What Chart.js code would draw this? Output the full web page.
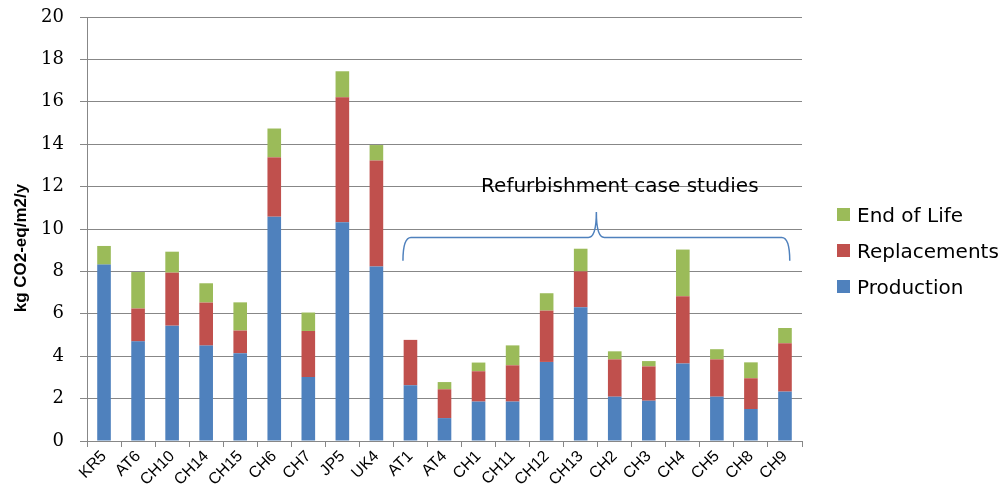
<!DOCTYPE html>
<html>
<head>
<meta charset="utf-8">
<script src="https://cdn.jsdelivr.net/npm/chart.js@4/dist/chart.umd.min.js"></script>
<style>
  html, body { margin: 0; padding: 0; background: #fff; }
  #wrap { position: relative; width: 1006px; height: 490px; }
  #legend { position: absolute; left: 837px; top: 202px; font-family: "DejaVu Sans", sans-serif; font-size: 20px; color: #000; }
  #legend div { height: 36px; line-height: 26px; white-space: nowrap; }
  #legend span { display: inline-block; width: 13px; height: 13px; margin-right: 7px; vertical-align: 1px; }
</style>
</head>
<body>
<div id="wrap">
  <canvas id="chart" width="1006" height="490"></canvas>
  <div id="legend"></div>
</div>
<script>
// ===== DATA =====
const buildings = ["KR5", "AT6", "CH10", "CH14", "CH15", "CH6", "CH7", "JP5", "UK4",
  "AT1", "AT4", "CH1", "CH11", "CH12", "CH13", "CH2", "CH3", "CH4", "CH5", "CH8", "CH9"];

const production   = [8.32, 4.70, 5.44, 4.50, 4.14, 10.58, 3.02, 10.32, 8.23,
  2.63, 1.08, 1.86, 1.86, 3.73, 6.31, 2.09, 1.90, 3.66, 2.09, 1.51, 2.33];
const replacements = [0, 1.55, 2.50, 2.03, 1.07, 2.80, 2.17, 5.89, 5.00,
  2.14, 1.36, 1.43, 1.71, 2.42, 1.69, 1.76, 1.62, 3.17, 1.76, 1.45, 2.28];
const endOfLife    = [0.88, 1.72, 0.99, 0.91, 1.33, 1.36, 0.87, 1.23, 0.73,
  0, 0.34, 0.41, 0.94, 0.82, 1.07, 0.38, 0.25, 2.20, 0.48, 0.75, 0.72];

const yTicks = [0, 2, 4, 6, 8, 10, 12, 14, 16, 18, 20];

const yTitle = "kg CO2-eq/m2/y";
const noteText = "Refurbishment case studies";

// ===== COLOURS =====
const blue = "#4F81BD";
const red = "#C0504D";
const green = "#9BBB59";
const gridColor = "#878787";

// ===== LEGEND (HTML) =====
const legendItems = [
  { label: "End of Life", color: green },
  { label: "Replacements", color: red },
  { label: "Production", color: blue }
];
document.getElementById("legend").innerHTML = legendItems
  .map(l => `<div><span style="background:${l.color}"></span>${l.label}</div>`)
  .join("");

// ===== BRACE, NOTE, AXIS TITLE =====
const bracePlugin = {
  id: "brace",
  afterDatasetsDraw(chart) {
    const x = chart.scales.x;
    const y = chart.scales.y;
    const ctx = chart.ctx;
    const xl = x.getPixelForValue(8.78);
    const xr = x.getPixelForValue(20.14);
    const xm = x.getPixelForValue(14.46);
    const yb = y.getPixelForValue(8.5);
    const yl = y.getPixelForValue(9.6);
    const yt = y.getPixelForValue(10.8);
    const r = 8;

    ctx.save();
    ctx.strokeStyle = blue;
    ctx.lineWidth = 1.5;
    ctx.beginPath();
    ctx.moveTo(xl, yb);
    ctx.quadraticCurveTo(xl, yl, xl + r, yl);
    ctx.lineTo(xm - r, yl);
    ctx.quadraticCurveTo(xm, yl, xm, yt);
    ctx.quadraticCurveTo(xm, yl, xm + r, yl);
    ctx.lineTo(xr - r, yl);
    ctx.quadraticCurveTo(xr, yl, xr, yb);
    ctx.stroke();

    ctx.fillStyle = "#000";
    ctx.font = '20px "DejaVu Sans", sans-serif';
    ctx.textAlign = "center";
    ctx.textBaseline = "middle";
    ctx.fillText(noteText, x.getPixelForValue(15.15), y.getPixelForValue(12.0));

    // y axis title, sits a bit below the middle like the original
    ctx.translate(21, y.getPixelForValue(9.1));
    ctx.rotate(-Math.PI / 2);
    ctx.font = 'bold 17px "Liberation Sans", Arial, sans-serif';
    ctx.fillText(yTitle, 0, 0);
    ctx.restore();
  }
};

// ===== CHART =====
const barOpts = { barPercentage: 0.4, categoryPercentage: 1.0, borderWidth: 0 };

new Chart(document.getElementById("chart").getContext("2d"), {
  type: "bar",
  data: {
    labels: buildings,
    datasets: [
      { label: "Production", data: production, backgroundColor: blue, ...barOpts },
      { label: "Replacements", data: replacements, backgroundColor: red, ...barOpts },
      { label: "End of Life", data: endOfLife, backgroundColor: green, ...barOpts }
    ]
  },
  options: {
    responsive: false,
    animation: false,
    layout: { padding: { top: 17, right: 204, bottom: 0, left: 0 } },
    plugins: {
      legend: { display: false },
      tooltip: { enabled: false }
    },
    scales: {
      x: {
        stacked: true,
        grid: { drawOnChartArea: false, drawTicks: true, tickLength: 6, color: gridColor, offset: true },
        border: { color: gridColor, width: 1 },
        ticks: {
          color: "#000",
          font: { family: "Liberation Sans", size: 16 },
          minRotation: 45,
          maxRotation: 45,
          autoSkip: false,
          padding: 0
        },
        afterFit(scale) {
          scale.height = 49;
          scale.paddingLeft = 0;
        }
      },
      y: {
        stacked: true,
        min: 0,
        max: 20,
        afterBuildTicks(scale) { scale.ticks = yTicks.map(v => ({ value: v })); },
        grid: { color: gridColor, lineWidth: 1, tickLength: 7 },
        border: { color: gridColor, width: 1 },
        ticks: {
          color: "#000",
          font: { family: "DejaVu Serif", size: 18, lineHeight: 1 },
          padding: 16
        },
        afterFit(scale) {
          scale.width = 87;
          scale.paddingTop = 0;
        }
      }
    }
  },
  plugins: [bracePlugin]
});
</script>
</body>
</html>
